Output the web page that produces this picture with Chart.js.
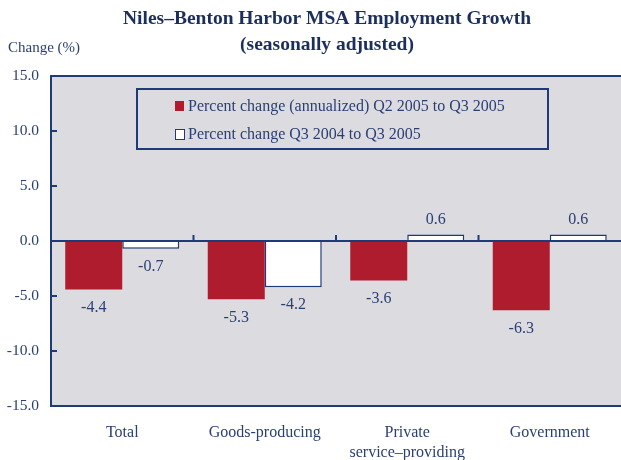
<!DOCTYPE html>
<html>
<head>
<meta charset="utf-8">
<script src="https://cdn.jsdelivr.net/npm/chart.js@4"></script>
<style>
html, body { margin: 0; padding: 0; background: #fff; }
</style>
</head>
<body>
<canvas id="chart" width="621" height="460"></canvas>
<script>
// Chart data
const categories = ['Total', 'Goods-producing', ['Private', 'service–providing'], 'Government'];
const quarterChange = [-4.4, -5.3, -3.6, -6.3];
const yearChange = [-0.7, -4.2, 0.6, 0.6];
const seriesLabels = [
    'Percent change (annualized) Q2 2005 to Q3 2005',
    'Percent change Q3 2004 to Q3 2005'
];
const yTicks = [15, 10, 5, 0, -5, -10, -15];

const SERIF = "'Liberation Serif', 'Times New Roman', serif";
const NAVY = '#1f3a78';
const TEXT = '#2a3f72';
const RED = '#ae1c2e';
const PLOT_BG = '#dcdbe0';

// Gray plot area
const plotBackground = {
    id: 'plotBackground',
    beforeDraw(chart) {
        const { ctx, chartArea: a } = chart;
        ctx.save();
        ctx.fillStyle = PLOT_BG;
        ctx.fillRect(a.left, a.top, a.right - a.left, a.bottom - a.top);
        ctx.restore();
    }
};

// Frame, zero line and tick marks
const frame = {
    id: 'frame',
    afterDatasetsDraw(chart) {
        const { ctx, chartArea: a, scales } = chart;
        const x = scales.x, y = scales.y;
        ctx.save();
        ctx.strokeStyle = NAVY;
        ctx.lineWidth = 2;
        ctx.beginPath();
        ctx.moveTo(a.right, a.top);
        ctx.lineTo(a.left, a.top);
        ctx.lineTo(a.left, a.bottom);
        ctx.lineTo(a.right, a.bottom);
        ctx.stroke();

        // zero line
        const y0 = y.getPixelForValue(0);
        ctx.beginPath();
        ctx.moveTo(a.left, y0);
        ctx.lineTo(a.right, y0);
        ctx.stroke();

        // y tick marks pointing inward
        ctx.beginPath();
        yTicks.forEach(v => {
            const py = y.getPixelForValue(v);
            ctx.moveTo(a.left, py);
            ctx.lineTo(a.left + 6, py);
        });
        ctx.stroke();

        // category boundary ticks on zero line
        ctx.beginPath();
        for (let i = 0; i < categories.length - 1; i++) {
            const px = (x.getPixelForValue(i) + x.getPixelForValue(i + 1)) / 2;
            ctx.moveTo(px, y0);
            ctx.lineTo(px, y0 - 6);
        }
        ctx.stroke();
        ctx.restore();
    }
};

// Value labels on bars
const valueLabels = {
    id: 'valueLabels',
    afterDatasetsDraw(chart) {
        const { ctx } = chart;
        ctx.save();
        ctx.font = '16px ' + SERIF;
        ctx.fillStyle = TEXT;
        ctx.textAlign = 'center';
        ctx.textBaseline = 'middle';
        chart.data.datasets.forEach((ds, di) => {
            chart.getDatasetMeta(di).data.forEach((bar, i) => {
                const v = ds.data[i];
                const offset = v < 0 ? 18 : -15;
                ctx.fillText(v.toFixed(1), bar.x, bar.y + offset);
            });
        });
        ctx.restore();
    }
};

// Titles, axis caption and boxed legend
const decorations = {
    id: 'decorations',
    afterDraw(chart) {
        const { ctx } = chart;
        ctx.save();
        ctx.fillStyle = '#1b2f5e';
        ctx.textAlign = 'center';
        ctx.textBaseline = 'middle';
        ctx.font = 'bold 19.5px ' + SERIF;
        ctx.fillText('Niles–Benton Harbor MSA Employment Growth', 327, 19);
        ctx.fillText('(seasonally adjusted)', 327, 45);

        ctx.font = '15px ' + SERIF;
        ctx.fillStyle = TEXT;
        ctx.textAlign = 'left';
        ctx.fillText('Change (%)', 8, 48);

        // legend box
        ctx.strokeStyle = NAVY;
        ctx.lineWidth = 2;
        ctx.strokeRect(137, 89, 411, 60);
        ctx.font = '16px ' + SERIF;
        const rows = [106, 134];
        chart.data.datasets.forEach((ds, i) => {
            const ry = rows[i];
            ctx.fillStyle = ds.backgroundColor;
            ctx.fillRect(175, ry - 5, 9, 10);
            if (ds.borderWidth) {
                ctx.lineWidth = 1;
                ctx.strokeStyle = ds.borderColor;
                ctx.strokeRect(175.5, ry - 4.5, 9, 10);
            }
            ctx.fillStyle = TEXT;
            ctx.fillText(ds.label, 188, ry + 1);
        });
        ctx.restore();
    }
};

new Chart(document.getElementById('chart'), {
    type: 'bar',
    data: {
        labels: categories,
        datasets: [
            {
                label: seriesLabels[0],
                data: quarterChange,
                backgroundColor: RED,
                borderWidth: 0
            },
            {
                label: seriesLabels[1],
                data: yearChange,
                backgroundColor: '#ffffff',
                borderColor: NAVY,
                borderWidth: 1.5
            }
        ]
    },
    options: {
        responsive: false,
        devicePixelRatio: 1,
        animation: false,
        categoryPercentage: 0.8,
        barPercentage: 1.0,
        layout: { padding: { top: 76, right: 0, left: 0, bottom: 0 } },
        scales: {
            x: {
                grid: { display: false, drawTicks: false },
                border: { display: false },
                ticks: {
                    color: TEXT,
                    padding: 17,
                    maxRotation: 0,
                    font: { family: SERIF, size: 16, lineHeight: 1.25 }
                },
                afterFit(scale) { scale.height = 54; }
            },
            y: {
                min: -15,
                max: 15,
                grid: { display: false, drawTicks: false },
                border: { display: false },
                ticks: {
                    stepSize: 5,
                    color: TEXT,
                    padding: 12,
                    font: { family: SERIF, size: 15.5 },
                    callback: v => v.toFixed(1)
                },
                afterFit(scale) { scale.width = 51; }
            }
        },
        plugins: {
            legend: { display: false },
            title: { display: false },
            tooltip: { enabled: false }
        }
    },
    plugins: [plotBackground, frame, valueLabels, decorations]
});
</script>
</body>
</html>
